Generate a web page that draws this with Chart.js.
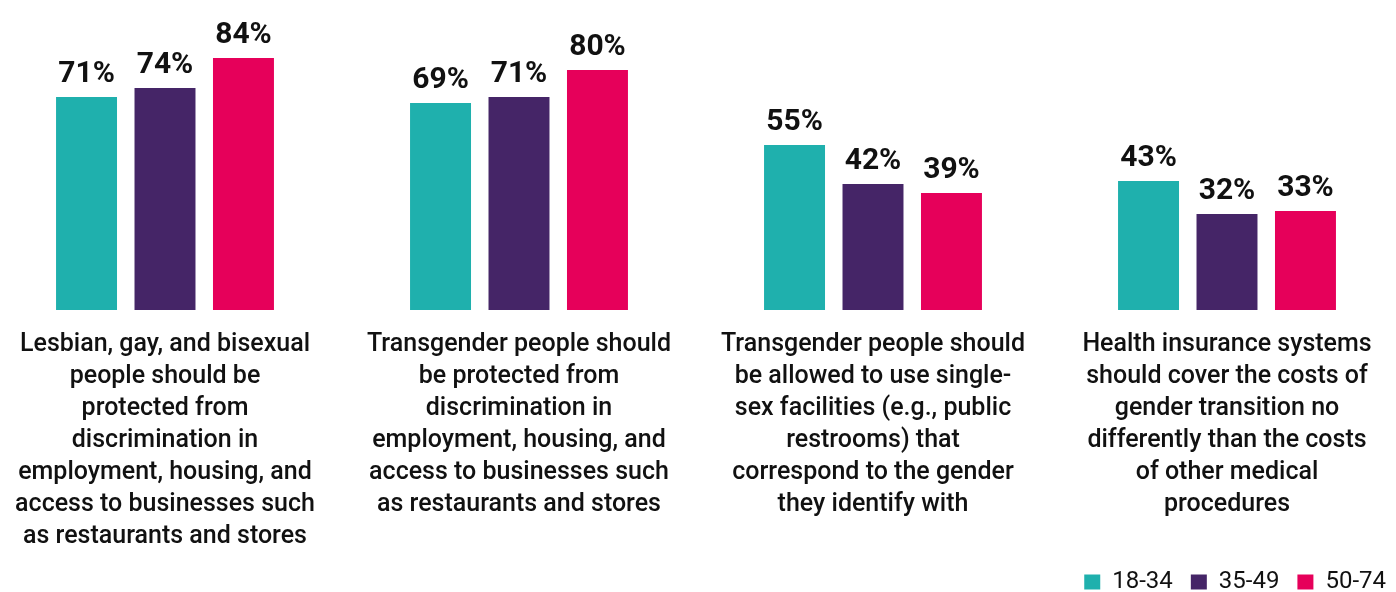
<!DOCTYPE html>
<html>
<head>
<meta charset="utf-8">
<script src="https://cdn.jsdelivr.net/npm/chart.js@4/dist/chart.umd.min.js"></script>
<style>
  html, body { margin: 0; padding: 0; background: #fff; overflow: hidden; }
  #wrap { position: absolute; left: -12px; top: 0; width: 1416px; height: 592px; }
</style>
</head>
<body>
<div id="wrap"><canvas id="myChart"></canvas></div>
<script>
  const categories = [
    ["Lesbian, gay, and bisexual", "people should be", "protected from", "discrimination in",
     "employment, housing, and", "access to businesses such", "as restaurants and stores"],
    ["Transgender people should", "be protected from", "discrimination in",
     "employment, housing, and", "access to businesses such", "as restaurants and stores"],
    ["Transgender people should", "be allowed to use single-", "sex facilities (e.g., public",
     "restrooms) that", "correspond to the gender", "they identify with"],
    ["Health insurance systems", "should cover the costs of", "gender transition no",
     "differently than the costs", "of other medical", "procedures"]
  ];
  const age18to34 = [71, 69, 55, 43];
  const age35to49 = [74, 71, 42, 32];
  const age50to74 = [84, 80, 39, 33];
  const seriesNames = ['18-34', '35-49', '50-74'];
  const colors = ['#1fb0ad', '#452567', '#e6005a'];

  // percent labels above each bar
  const valueLabels = {
    id: 'valueLabels',
    afterDatasetsDraw(chart) {
      const ctx = chart.ctx;
      ctx.save();
      ctx.font = 'bold 30px Roboto';
      ctx.fillStyle = '#111';
      ctx.textAlign = 'center';
      ctx.textBaseline = 'alphabetic';
      chart.data.datasets.forEach((ds, i) => {
        chart.getDatasetMeta(i).data.forEach((bar, j) => {
          ctx.fillText(ds.data[j] + '%', bar.x, bar.y - 15);
        });
      });
      ctx.restore();
    }
  };

  const ctx = document.getElementById('myChart').getContext('2d');
  const chart = new Chart(ctx, {
    type: 'bar',
    data: {
      labels: categories,
      datasets: [age18to34, age35to49, age50to74].map((d, i) => ({
        label: seriesNames[i],
        data: d,
        backgroundColor: colors[i],
        borderWidth: 0,
        barPercentage: 0.777,
        categoryPercentage: 0.665
      }))
    },
    options: {
      responsive: true,
      maintainAspectRatio: false,
      animation: false,
      layout: { padding: { top: 10, left: 0, right: 0, bottom: -12 } },
      scales: {
        x: {
          grid: { display: false, drawTicks: false },
          border: { display: false },
          ticks: {
            color: '#111',
            font: { family: 'Roboto', size: 25, weight: 500, lineHeight: 1.28 },
            padding: 19,
            maxRotation: 0,
            autoSkip: false
          },
          // let the long labels run down beside the legend
          afterFit(scale) { scale.height = 242; }
        },
        y: {
          display: false,
          min: 0,
          max: 100
        }
      },
      plugins: {
        legend: {
          position: 'bottom',
          align: 'end',
          labels: {
            color: '#111',
            font: { family: 'Roboto', size: 24 },
            boxWidth: 16,
            boxHeight: 15,
            padding: 18
          }
        },
        tooltip: { enabled: false }
      }
    },
    plugins: [valueLabels]
  });
</script>
</body>
</html>
